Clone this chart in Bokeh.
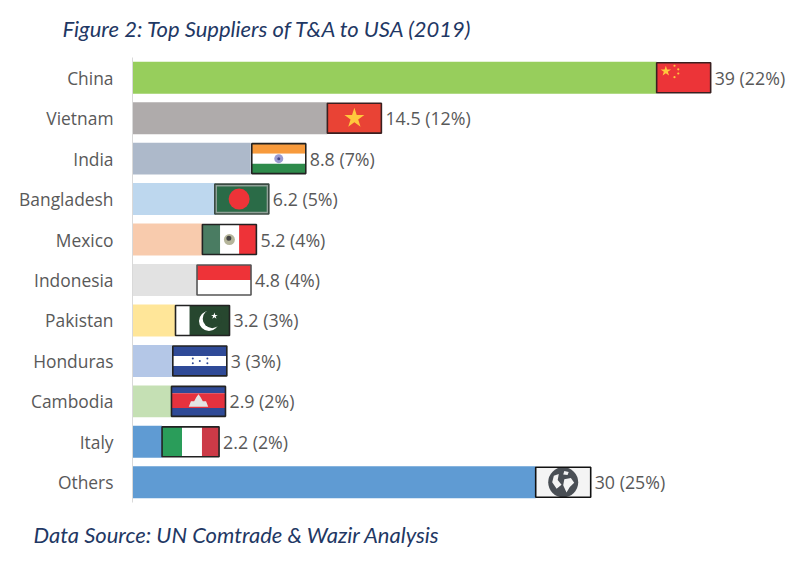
from bokeh.plotting import figure
from bokeh.models import Range1d, FixedTicker, Title
from bokeh.embed import file_html
from bokeh.resources import INLINE

categories = ["China", "Vietnam", "India", "Bangladesh", "Mexico", "Indonesia",
              "Pakistan", "Honduras", "Cambodia", "Italy", "Others"]
values = [39, 14.5, 8.8, 6.2, 5.2, 4.8, 3.2, 3, 2.9, 2.2, 30]
shares = ["22%", "12%", "7%", "5%", "4%", "4%", "3%", "3%", "2%", "2%", "25%"]
bar_colors = ["#97CE5C", "#AFABAB", "#ADB9CA", "#BDD7EE", "#F8CBAD", "#E2E2E2",
              "#FFE699", "#B4C7E7", "#C5E0B4", "#5F9BD3", "#5F9BD3"]
labels = [f"{v:g} ({s})" for v, s in zip(values, shares)]

W, H = 790, 563
LEFT, RIGHT, TOP, BOTTOM = 132, 0, 57, 61
UX = 13.44          # px per unit of value
UY = 40.5           # px per category
NAVY = "#1F3864"
GREY = "#595959"

p = figure(width=W, height=H, output_backend="svg", toolbar_location=None,
           x_range=Range1d(0, (W - LEFT - RIGHT) / UX),
           y_range=Range1d(len(categories) - 0.5, -0.5),
           min_border_left=LEFT, min_border_right=RIGHT,
           min_border_top=TOP, min_border_bottom=BOTTOM,
           outline_line_color=None, background_fill_color="white")
p.grid.visible = False
p.xaxis.visible = False
ax = p.yaxis[0]
ax.ticker = FixedTicker(ticks=list(range(len(categories))))
ax.major_label_overrides = {i: c for i, c in enumerate(categories)}
ax.major_tick_line_color = None
ax.minor_tick_line_color = None
ax.axis_line_color = "#D9D9D9"
ax.major_label_text_font = "Open Sans"
ax.major_label_text_font_size = "17.4px"
ax.major_label_text_color = GREY
ax.major_label_standoff = 13

ys = list(range(len(categories)))
p.hbar(y=ys, left=0, right=values, height=32 / UY, fill_color=bar_colors, line_color=None)

# flag parts, in fractions of the flag box
def bands(*cols):
    n = len(cols)
    return [("rect", 0, 1, i / n, (i + 1) / n, c) for i, c in enumerate(cols)]

def vbands(*spec):
    return [("rect", a, b, 0, 1, c) for a, b, c in spec]

RED = "#EE3338"
YEL = "#FFC83D"
BLUE = "#2F4A97"
flags = {
    "China": ([("rect", 0, 1, 0, 1, "#EC3438"), ("star", .17, .28, 11, YEL),
               ("dot", .33, .10, 2.2, YEL), ("dot", .40, .22, 2.2, YEL),
               ("dot", .40, .36, 2.2, YEL), ("dot", .33, .48, 2.2, YEL)], "#3A2020", 54, 0),
    "Vietnam": ([("rect", 0, 1, 0, 1, "#E94335"), ("star", .5, .5, 21, YEL)], "#3A2020", 54, 0),
    "India": (bands("#F79A3C", "#FFFFFF", "#2E8B4B") + [("dot", .5, .5, 9, "#9A9AD0"), ("dot", .5, .5, 3, "#444488")], "#222222", 54, 1),
    "Bangladesh": ([("rect", 0, 1, 0, 1, "#8FA097"), ("rect", .04, .96, .08, .92, "#2A6B47"), ("dot", .45, .5, 21, RED)], "#3A4A42", 54, -1),
    "Mexico": (vbands((0, .33, "#4A7C62"), (.33, .68, "#FFFFFF"), (.68, 1, RED)) + [("dot", .5, .5, 11, "#B5B59A"), ("dot", .49, .46, 5, "#444444")], "#222222", 54, 0),
    "Indonesia": (bands(RED, "#FFFFFF"), "#555555", 54, 0),
    "Pakistan": (vbands((0, .26, "#FFFFFF"), (.26, 1, "#27472F")) + [("dot", .62, .52, 20, "#FFFFFF"), ("dot", .68, .44, 19, "#27472F"), ("star", .72, .35, 7, "#FFFFFF")], "#222222", 54, 0),
    "Honduras": (bands(BLUE, "#FFFFFF", BLUE) + [("dot", .37, .42, 2, BLUE), ("dot", .37, .58, 2, BLUE), ("dot", .5, .5, 2, BLUE), ("dot", .64, .42, 2, BLUE), ("dot", .64, .58, 2, BLUE)], "#222222", 54, 0),
    "Cambodia": ([("rect", 0, 1, 0, .23, BLUE), ("rect", 0, 1, .23, .72, "#E5323E"), ("rect", 0, 1, .72, 1, BLUE),
                  ("poly", [.32, .36, .42, .46, .5, .54, .58, .64, .68], [.68, .50, .50, .36, .26, .36, .50, .50, .68], "#E4E4E4")], "#222222", 54, 0),
    "Italy": (vbands((0, .35, "#2A9D5A"), (.35, .7, "#FFFFFF"), (.7, 1, "#CC3A47")), "#222222", 57, 0),
    "Others": ([("rect", 0, 1, 0, 1, "#F4F4F4"), ("dot", .5, .5, 30, "#4A4F55"),
                ("poly", [.33, .42, .40, .47, .38, .30], [.28, .22, .42, .58, .72, .50], "#F4F4F4"),
                ("poly", [.52, .64, .70, .62, .56, .50], [.40, .36, .52, .66, .84, .60], "#F4F4F4"),
                ("poly", [.52, .60, .58, .50], [.12, .16, .26, .24], "#F4F4F4")], "#111111", 55, 0)}

FLAG_H = 30
label_x = []
for i, (name, val) in enumerate(zip(categories, values)):
    parts, edge, w_px, gap_px = flags[name]
    x0 = val + gap_px / UX
    w = w_px / UX
    h = FLAG_H / UY
    y0 = i - h / 2
    for part in parts:
        kind = part[0]
        if kind == "rect":
            _, a, b, c, d, col = part
            p.quad(left=[x0 + a * w], right=[x0 + b * w], top=[y0 + c * h], bottom=[y0 + d * h],
                   fill_color=col, line_color=None)
        elif kind in ("dot", "star"):
            _, a, c, size, col = part
            p.scatter(x=[x0 + a * w], y=[y0 + c * h], size=size, fill_color=col, line_color=None,
                      marker="circle" if kind == "dot" else "star")
        else:
            _, xs, yy, col = part
            p.patch(x=[x0 + a * w for a in xs], y=[y0 + c * h for c in yy], fill_color=col, line_color=None)
    p.quad(left=[x0], right=[x0 + w], top=[y0], bottom=[y0 + h], fill_color=None,
           line_color=edge, line_width=1.6)
    label_x.append(x0 + w)

p.text(x=label_x, y=ys, text=labels, x_offset=4, text_baseline="middle", text_align="left",
       text_font={"value": "Open Sans"}, text_font_size={"value": "17.8px"}, text_color=GREY)

p.add_layout(Title(text="Figure 2: Top Suppliers of T&A to USA (2019)", text_font="Lato",
                   text_font_style="italic", text_font_size="22px", text_color=NAVY,
                   align="left", offset=-70, standoff=28, vertical_align="top"), "above")
p.add_layout(Title(text="Data Source: UN Comtrade & Wazir Analysis", text_font="Lato",
                   text_font_style="italic", text_font_size="22px", text_color=NAVY,
                   align="left", offset=-99, standoff=32), "below")

open("out.html", "w").write(file_html(p, INLINE))
